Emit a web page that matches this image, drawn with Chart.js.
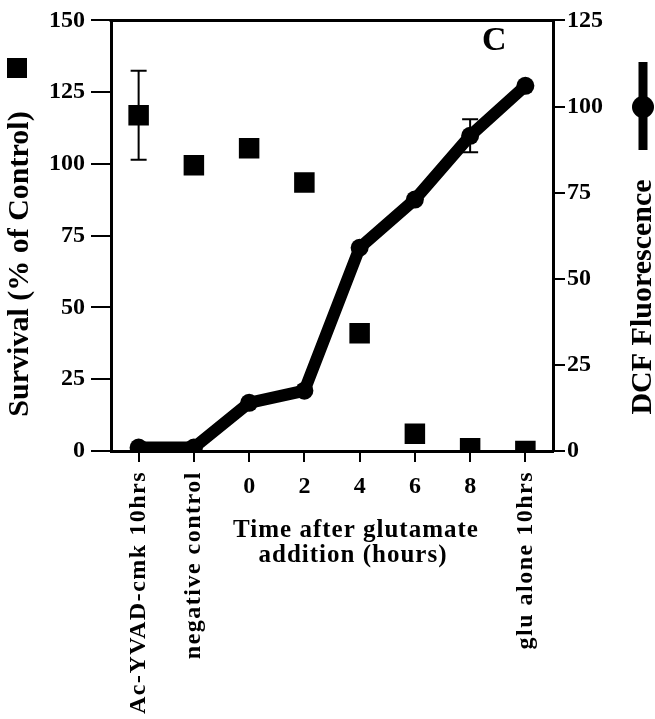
<!DOCTYPE html>
<html>
<head>
<meta charset="utf-8">
<script src="https://cdn.jsdelivr.net/npm/chart.js@4/dist/chart.umd.min.js"></script>
<style>
html,body{margin:0;padding:0;background:#fff;}
canvas{display:block;}
</style>
</head>
<body>
<canvas id="c" width="655" height="719"></canvas>
<script>
// ---- data ----
const categories = ['Ac-YVAD-cmk 10hrs', 'negative control', '0', '2', '4', '6', '8', 'glu alone 10hrs'];
const survival = [117, 99.5, 105.5, 93.5, 41, 6, 1, 0];
const survivalErr = [15.5, 0, 0, 0, 0, 0, 0, 0];
const dcf = [1, 1, 14, 17.5, 59, 73, 91.5, 106];
const dcfErr = [0, 0, 0, 0, 0, 0, 4.8, 0];
const survivalTicks = [0, 25, 50, 75, 100, 125, 150];
const dcfTicks = [0, 25, 50, 75, 100, 125];
const xTitleLines = ['Time after glutamate', 'addition (hours)'];
const leftTitle = 'Survival (% of Control)';
const rightTitle = 'DCF Fluorescence';
const panelLabel = 'C';

const SERIF = '"Liberation Serif", "Times New Roman", serif';

const decor = {
  id: 'decor',
  afterDraw(chart) {
    const ctx = chart.ctx;
    const ca = chart.chartArea;
    const xs = chart.scales.x, y = chart.scales.y, y1 = chart.scales.y1;
    ctx.save();
    // top border
    ctx.strokeStyle = '#000';
    ctx.lineWidth = 3;
    ctx.beginPath();
    ctx.moveTo(ca.left - 1.5, ca.top);
    ctx.lineTo(ca.right + 1.5, ca.top);
    ctx.stroke();

    // error bars
    ctx.lineWidth = 2;
    const drawErr = (px, yScale, v, e) => {
      const yt = yScale.getPixelForValue(v + e);
      const yb = yScale.getPixelForValue(v - e);
      ctx.beginPath();
      ctx.moveTo(px, yt); ctx.lineTo(px, yb);
      ctx.moveTo(px - 8, yt); ctx.lineTo(px + 8, yt);
      ctx.moveTo(px - 8, yb); ctx.lineTo(px + 8, yb);
      ctx.stroke();
    };
    categories.forEach((c, i) => {
      const px = xs.getPixelForValue(i);
      if (survivalErr[i]) drawErr(px, y, survival[i], survivalErr[i]);
      if (dcfErr[i]) drawErr(px, y1, dcf[i], dcfErr[i]);
    });

    // x tick labels
    ctx.fillStyle = '#000';
    categories.forEach((c, i) => {
      const px = xs.getPixelForValue(i);
      if (isNaN(Number(c))) {
        ctx.save();
        ctx.translate(px, ca.bottom + 20);
        ctx.rotate(-Math.PI / 2);
        ctx.font = 'bold 24px ' + SERIF;
        ctx.letterSpacing = '1.5px';
        ctx.textAlign = 'right';
        ctx.textBaseline = 'middle';
        ctx.fillText(c, 0, 0);
        ctx.restore();
      } else {
        ctx.font = 'bold 24px ' + SERIF;
        ctx.textAlign = 'center';
        ctx.textBaseline = 'alphabetic';
        ctx.fillText(c, px, ca.bottom + 42);
      }
    });

    // x title
    ctx.font = 'bold 25px ' + SERIF;
    ctx.letterSpacing = '1px';
    ctx.textAlign = 'center';
    ctx.textBaseline = 'alphabetic';
    ctx.fillText(xTitleLines[0], 356, 537);
    ctx.fillText(xTitleLines[1], 353, 562);
    ctx.letterSpacing = '0px';

    // left title
    ctx.save();
    ctx.translate(20, 264);
    ctx.rotate(-Math.PI / 2);
    ctx.font = 'bold 30px ' + SERIF;
    ctx.textAlign = 'center';
    ctx.textBaseline = 'middle';
    ctx.fillText(leftTitle, 0, 0);
    ctx.restore();

    // right title
    ctx.save();
    ctx.translate(643, 297);
    ctx.rotate(-Math.PI / 2);
    ctx.font = 'bold 30px ' + SERIF;
    ctx.textAlign = 'center';
    ctx.textBaseline = 'middle';
    ctx.fillText(rightTitle, 0, 0);
    ctx.restore();

    // legend: square
    ctx.fillRect(7, 58, 20, 20);
    // legend: line + circle
    ctx.lineWidth = 9;
    ctx.beginPath();
    ctx.moveTo(643, 62); ctx.lineTo(643, 150);
    ctx.stroke();
    ctx.beginPath();
    ctx.arc(643, 107, 11, 0, Math.PI * 2);
    ctx.fill();

    // panel label
    ctx.font = 'bold 34px ' + SERIF;
    ctx.textAlign = 'left';
    ctx.textBaseline = 'alphabetic';
    ctx.fillText(panelLabel, 482, 50);
    ctx.restore();
  }
};

const tickFont = { family: SERIF, size: 24, weight: 'bold' };

new Chart(document.getElementById('c'), {
  type: 'line',
  data: {
    labels: categories,
    datasets: [
      {
        label: 'Survival',
        data: survival,
        yAxisID: 'y',
        showLine: false,
        pointStyle: 'rect',
        pointRadius: 14.5,
        backgroundColor: '#000',
        borderColor: '#000',
        borderWidth: 0,
        order: 2
      },
      {
        label: 'DCF Fluorescence',
        data: dcf,
        yAxisID: 'y1',
        borderColor: '#000',
        backgroundColor: '#000',
        borderWidth: 12,
        borderJoinStyle: 'miter',
        borderCapStyle: 'round',
        pointStyle: 'circle',
        pointRadius: 9,
        pointBorderWidth: 0,
        tension: 0,
        order: 1
      }
    ]
  },
  options: {
    responsive: false,
    animation: false,
    layout: { padding: { top: 12, left: 0, right: 0, bottom: 0 } },
    plugins: { legend: { display: false }, tooltip: { enabled: false } },
    scales: {
      x: {
        type: 'category',
        offset: true,
        grid: { display: true, drawOnChartArea: false, drawTicks: true, tickLength: 11, color: '#000', lineWidth: 2, offset: false },
        border: { display: true, color: '#000', width: 3 },
        ticks: { display: false },
        afterFit(s) { s.height = 268; }
      },
      y: {
        position: 'left',
        min: 0, max: 150,
        afterBuildTicks(s) { s.ticks = survivalTicks.map(v => ({ value: v })); },
        ticks: { font: tickFont, color: '#000', padding: 6 },
        grid: { drawOnChartArea: false, drawTicks: true, tickLength: 20, color: '#000', lineWidth: 2 },
        border: { display: true, color: '#000', width: 3 },
        afterFit(s) { s.width = 111; }
      },
      y1: {
        position: 'right',
        min: 0, max: 125,
        afterBuildTicks(s) { s.ticks = dcfTicks.map(v => ({ value: v })); },
        ticks: { font: tickFont, color: '#000', padding: 2 },
        grid: { drawOnChartArea: false, drawTicks: true, tickLength: 12, color: '#000', lineWidth: 2 },
        border: { display: true, color: '#000', width: 3 },
        afterFit(s) { s.width = 102; }
      }
    }
  },
  plugins: [decor]
});
</script>
</body>
</html>
